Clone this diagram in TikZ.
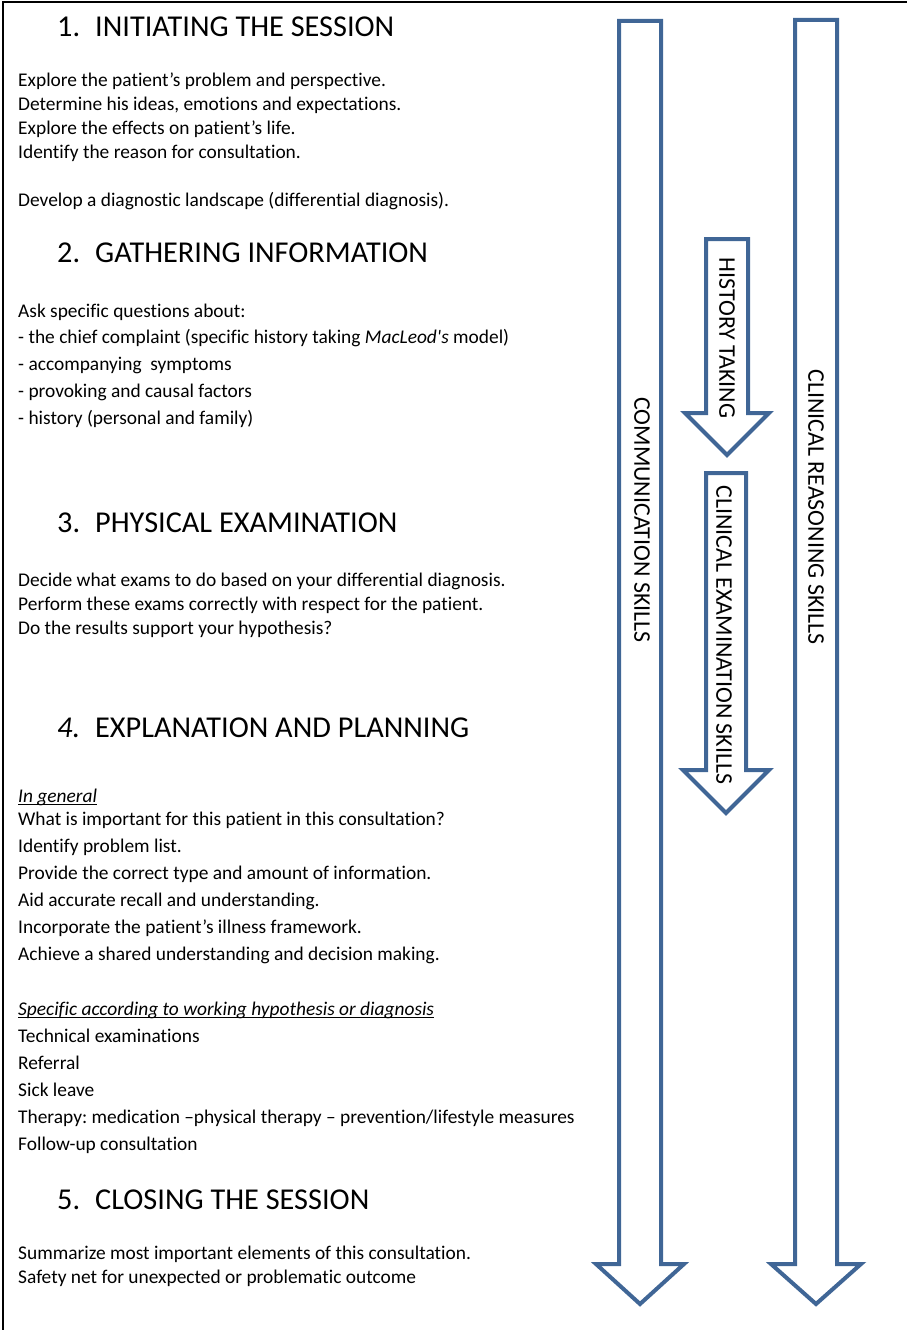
\documentclass[tikz,border=0pt]{standalone}
\usepackage{fontspec}
\setmainfont{Carlito}[Ligatures={TeX,NoCommon}]
\usepackage{tikz}
\usepackage{xcolor}
\frenchspacing

\definecolor{arrowblue}{RGB}{64,102,150}

\tikzset{
  body/.style={anchor=base west, inner sep=0, font=\fontsize{19.4}{24}\selectfont},
  head/.style={anchor=base west, inner sep=0, font=\fontsize{30.3}{36}\selectfont},
  skill/.style={rotate=-90, inner sep=0, font=\fontsize{23.9}{28}\selectfont},
  outline/.style={draw=arrowblue, line width=4, line join=miter},
}

\begin{document}
\begin{tikzpicture}[x=1pt, y=-1pt]
	\useasboundingbox (0,0) rectangle (907,1330);
	\draw[line width=1.5] (907,2) -- (3,2) -- (3,1330);

	% the four arrows
	\foreach \cx/\ytop/\ybase/\ytip/\hs/\hh in {640/21/1264/1304/21/44, 816/20/1264/1304/21/45, 727/239/413/455/21/42, 726/473/770/813/20/43}
		\draw[outline] (\cx-\hs,\ytop) -- (\cx+\hs,\ytop) -- (\cx+\hs,\ybase) -- (\cx+\hh,\ybase) -- (\cx,\ytip) -- (\cx-\hh,\ybase) -- (\cx-\hs,\ybase) -- cycle;

	\node[skill] (comm) at (642,520) {COMMUNICATION SKILLS};
	\node[skill] (hist) at (727,338) {HISTORY TAKING};
	\node[skill] (exam) at (724,635) {CLINICAL EXAMINATION SKILLS};
	\node[skill] (reas) at (816,507) {CLINICAL REASONING SKILLS};

	% 1
	\node[head] (n1) at (57,37) {1.};
	\node[head] (h1) at (95,37) {INITIATING THE SESSION};
	\node[body] (t11) at (18,86) {Explore the patient’s problem and perspective.};
	\node[body] (t12) at (18,110) {Determine his ideas, emotions and expectations.};
	\node[body] (t13) at (18,134) {Explore the effects on patient’s life.};
	\node[body] (t14) at (18,158) {Identify the reason for consultation.};
	\node[body] (t15) at (18,206) {Develop a diagnostic landscape (differential diagnosis).};

	% 2
	\node[head] (n2) at (57,262) {2.};
	\node[head] (h2) at (95,262) {GATHERING INFORMATION};
	\node[body] (t21) at (18,317) {Ask specific questions about:};
	\node[body] (t22) at (18,343) {- the chief complaint (specific history taking \textit{MacLeod\textquotesingle s} model)};
	\node[body] (t23) at (18,370) {- accompanying\ \ symptoms};
	\node[body] (t24) at (18,397) {- provoking and causal factors};
	\node[body] (t25) at (18,424) {- history (personal and family)};

	% 3
	\node[head] (n3) at (57,532) {3.};
	\node[head] (h3) at (95,532) {PHYSICAL EXAMINATION};
	\node[body] (t31) at (18,586) {Decide what exams to do based on your differential diagnosis.};
	\node[body] (t32) at (18,610) {Perform these exams correctly with respect for the patient.};
	\node[body] (t33) at (18,634) {Do the results support your hypothesis?};

	% 4
	\node[head] (n4) at (57,737) {\textit{4.}};
	\node[head] (h4) at (95,737) {EXPLANATION AND PLANNING};
	\node[body] (ingeneral) at (18,802) {\textit{In general}};
	\draw[line width=1] ([yshift=-2.5pt]ingeneral.base west) -- ([yshift=-2.5pt]ingeneral.base east);
	\node[body] (t41) at (18,825) {What is important for this patient in this consultation?};
	\node[body] (t42) at (18,852) {Identify problem list.};
	\node[body] (t43) at (18,879) {Provide the correct type and amount of information.};
	\node[body] (t44) at (18,906) {Aid accurate recall and understanding.};
	\node[body] (t45) at (18,933) {Incorporate the patient’s illness framework.};
	\node[body] (t46) at (18,960) {Achieve a shared understanding and decision making.};
	\node[body] (specific) at (18,1015) {\textit{Specific according to working hypothesis or diagnosis}};
	\draw[line width=1] ([yshift=-2.5pt]specific.base west) -- ([yshift=-2.5pt]specific.base east);
	\node[body] (t47) at (18,1042) {Technical examinations};
	\node[body] (t48) at (18,1069) {Referral};
	\node[body] (t49) at (18,1096) {Sick leave};
	\node[body] (t410) at (18,1123) {Therapy: medication –physical therapy – prevention/lifestyle measures};
	\node[body] (t411) at (18,1150) {Follow-up consultation};

	% 5
	\node[head] (n5) at (57,1209) {5.};
	\node[head] (h5) at (95,1209) {CLOSING THE SESSION};
	\node[body] (t51) at (18,1259) {Summarize most important elements of this consultation.};
	\node[body] (t52) at (18,1283) {Safety net for unexpected or problematic outcome};
\end{tikzpicture}
\end{document}
